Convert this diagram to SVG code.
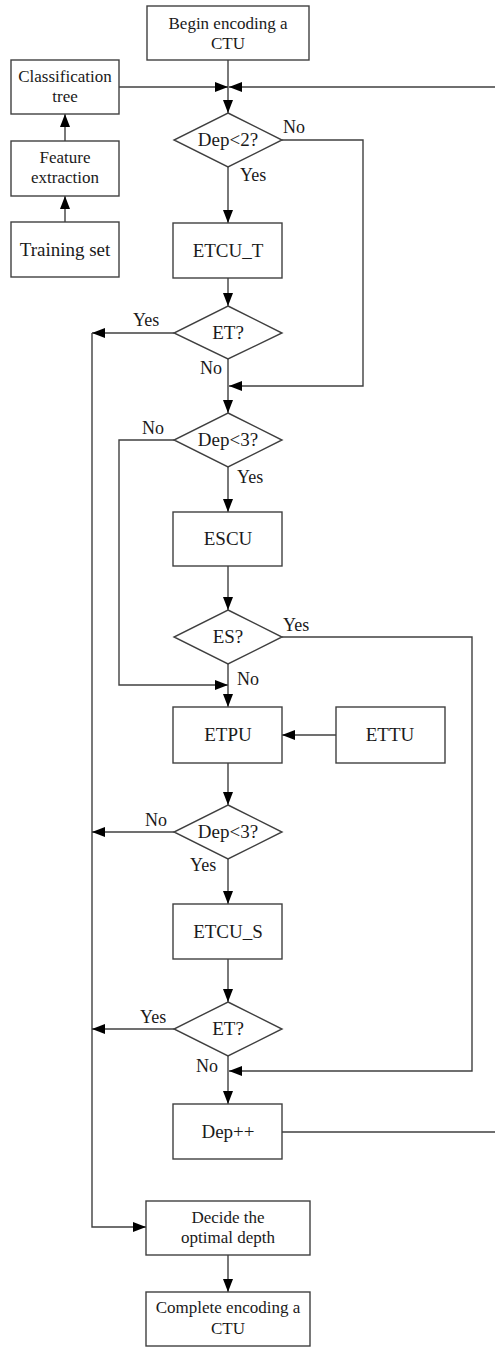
<svg xmlns="http://www.w3.org/2000/svg" width="495" height="1347" viewBox="0 0 495 1347">
<style>
.box{fill:#fff;stroke:#404040;stroke-width:1.4}
.dia{fill:#fff;stroke:#404040;stroke-width:1.4}
.ln{fill:none;stroke:#404040;stroke-width:1.4}
.ar{marker-end:url(#ah)}
text{font-family:"Liberation Serif","Times New Roman",serif;fill:#1a1a1a}
.t{font-size:19px;text-anchor:middle}
.t2{font-size:17px;text-anchor:middle}
.lb{font-size:18px}
</style>
<defs>
<marker id="ah" markerUnits="userSpaceOnUse" markerWidth="14" markerHeight="11" refX="13" refY="5" orient="auto">
<path d="M0,0 L13,5 L0,10 z" fill="#000"/>
</marker>
</defs>
<rect width="495" height="1347" fill="#fff"/>
<g id="connectors">
<path class="ln ar" d="M228,60 V113"/>
<path class="ln ar" d="M119,87 H228"/>
<path class="ln ar" d="M282,1132 H500 V87 H229"/>
<path class="ln ar" d="M65,141 V114"/>
<path class="ln ar" d="M65,222 V196"/>
<path class="ln ar" d="M228,167 V223"/>
<path class="ln ar" d="M282,140 H363 V386 H229"/>
<path class="ln ar" d="M228,278 V306"/>
<path class="ln ar" d="M174,333 H92"/>
<path class="ln ar" d="M92,333 V1227 H146"/>
<path class="ln ar" d="M228,359 V413"/>
<path class="ln ar" d="M174,440 H119 V685 H228"/>
<path class="ln ar" d="M228,467 V512"/>
<path class="ln ar" d="M228,566 V610"/>
<path class="ln ar" d="M282,637 H472 V1071 H229"/>
<path class="ln ar" d="M228,664 V707"/>
<path class="ln ar" d="M336,735 H282"/>
<path class="ln ar" d="M228,763 V805"/>
<path class="ln ar" d="M174,832 H92"/>
<path class="ln ar" d="M228,859 V904"/>
<path class="ln ar" d="M228,959 V1002"/>
<path class="ln ar" d="M174,1029 H92"/>
<path class="ln ar" d="M228,1056 V1104"/>
<path class="ln ar" d="M228,1255 V1292"/>
</g>
<g id="labels">
<text class="lb" x="283" y="133">No</text>
<text class="lb" x="240" y="181">Yes</text>
<text class="lb" x="133" y="326">Yes</text>
<text class="lb" x="200" y="374">No</text>
<text class="lb" x="142" y="434">No</text>
<text class="lb" x="237" y="483">Yes</text>
<text class="lb" x="283" y="631">Yes</text>
<text class="lb" x="237" y="685">No</text>
<text class="lb" x="145" y="826">No</text>
<text class="lb" x="190" y="871">Yes</text>
<text class="lb" x="140" y="1023">Yes</text>
<text class="lb" x="196" y="1072">No</text>
</g>
<g id="begin"><rect class="box" x="147" y="6" width="162" height="54"/><text class="t2" x="228" y="29">Begin encoding a</text><text class="t2" x="228" y="49">CTU</text></g>
<g id="classification"><rect class="box" x="11" y="60" width="108" height="54"/><text class="t2" x="65" y="82">Classification</text><text class="t2" x="65" y="102">tree</text></g>
<g id="feature"><rect class="box" x="11" y="141" width="108" height="55"/><text class="t2" x="65" y="163">Feature</text><text class="t2" x="65" y="183">extraction</text></g>
<g id="training"><rect class="box" x="11" y="222" width="108" height="55"/><text class="t" x="65" y="256">Training set</text></g>
<g id="dep2"><polygon class="dia" points="228,113 282,140 228,167 174,140"/><text class="t" x="228" y="146">Dep&lt;2?</text></g>
<g id="etcu_t"><rect class="box" x="173" y="223" width="109" height="55"/><text class="t" x="228" y="257">ETCU_T</text></g>
<g id="et1"><polygon class="dia" points="228,306 282,333 228,359 174,333"/><text class="t" x="228" y="339">ET?</text></g>
<g id="dep3a"><polygon class="dia" points="228,413 282,440 228,467 174,440"/><text class="t" x="228" y="446">Dep&lt;3?</text></g>
<g id="escu"><rect class="box" x="173" y="512" width="109" height="54"/><text class="t" x="228" y="545">ESCU</text></g>
<g id="es"><polygon class="dia" points="228,610 282,637 228,664 174,637"/><text class="t" x="228" y="643">ES?</text></g>
<g id="etpu"><rect class="box" x="173" y="707" width="109" height="56"/><text class="t" x="228" y="741">ETPU</text></g>
<g id="ettu"><rect class="box" x="336" y="707" width="109" height="56"/><text class="t" x="390" y="741">ETTU</text></g>
<g id="dep3b"><polygon class="dia" points="228,805 282,832 228,859 174,832"/><text class="t" x="228" y="838">Dep&lt;3?</text></g>
<g id="etcu_s"><rect class="box" x="173" y="904" width="109" height="55"/><text class="t" x="228" y="938">ETCU_S</text></g>
<g id="et2"><polygon class="dia" points="228,1002 282,1029 228,1056 174,1029"/><text class="t" x="228" y="1035">ET?</text></g>
<g id="depinc"><rect class="box" x="173" y="1104" width="109" height="55"/><text class="t" x="228" y="1138">Dep++</text></g>
<g id="decide"><rect class="box" x="146" y="1201" width="164" height="54"/><text class="t2" x="228" y="1223">Decide the</text><text class="t2" x="228" y="1243">optimal depth</text></g>
<g id="complete"><rect class="box" x="146" y="1292" width="164" height="54"/><text class="t2" x="228" y="1313">Complete encoding a</text><text class="t2" x="228" y="1334">CTU</text></g>
</svg>
